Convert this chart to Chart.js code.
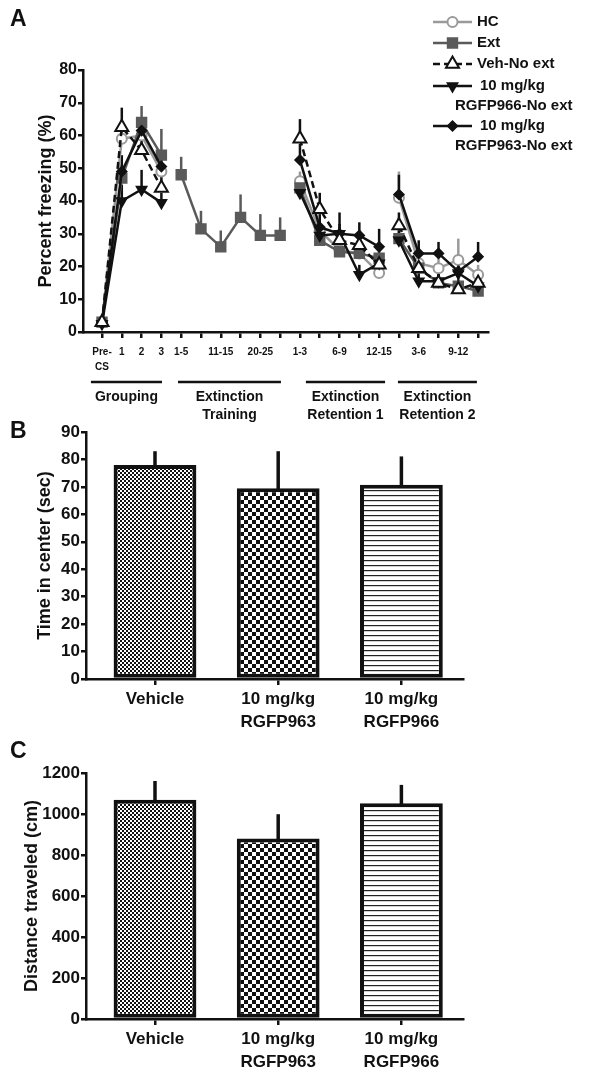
<!DOCTYPE html>
<html>
<head>
<meta charset="utf-8">
<script src="https://cdn.jsdelivr.net/npm/chart.js@4.4.0/dist/chart.umd.min.js"></script>
<style>
  body { margin: 0; background: #fff; }
  #wrap { position: relative; width: 600px; height: 1081px; font-family: Arial, 'Liberation Sans', Helvetica, sans-serif; }
  .panel { position: absolute; left: 0; width: 600px; }
  .letter { position: absolute; left: 10px; font-size: 23px; font-weight: bold; line-height: 23px; color: #111; }
</style>
</head>
<body>
<div id="wrap">
  <div class="panel" style="top:0;height:440px"><canvas id="freezeChart" width="600" height="440"></canvas></div>
  <div class="panel" style="top:420px;height:320px"><canvas id="centerChart" width="600" height="320"></canvas></div>
  <div class="panel" style="top:740px;height:341px"><canvas id="distanceChart" width="600" height="341"></canvas></div>
  <div class="letter" style="top:7px">A</div>
  <div class="letter" style="top:419px">B</div>
  <div class="letter" style="top:739px">C</div>
</div>
<script>
const FONT = "Arial, 'Liberation Sans', Helvetica, sans-serif";
Chart.defaults.font.family = FONT;
Chart.defaults.color = '#111';
Chart.defaults.animation = false;

// Panel A - freezing across sessions
const sessionLabels = ['Pre-\nCS', '1', '2', '3', '1-5', '', '11-15', '', '20-25', '', '1-3', '', '6-9', '', '12-15', '', '3-6', '', '9-12', ''];
const sessionPhase = [0, 0, 0, 0, 1, 1, 1, 1, 1, 1, 2, 2, 2, 2, 2, 3, 3, 3, 3, 3];
const phaseNames = [['Grouping'], ['Extinction', 'Training'], ['Extinction', 'Retention 1'], ['Extinction', 'Retention 2']];
const seriesNames = ['HC', 'Ext', 'Veh-No ext', '10 mg/kg\nRGFP966-No ext', '10 mg/kg\nRGFP963-No ext'];

const hcFreeze  = [3, 59, 60, 49, null, null, null, null, null, null, 46, 31, 25, 24, 18, 41, 21, 19.5, 22, 17.5];
const hcSem     = [1, 3, 3, 4, null, null, null, null, null, null, 3, 3, 2, 2, 2, 8, 3, 3, 6.5, 3];
const extFreeze = [3, 47, 64, 54, 48, 31.5, 26, 35, 29.5, 29.5, 44, 28, 24.5, 24, 22.5, 28.5, 19.5, 15, 14, 12.5];
const extSem    = [1, 4, 5, 8, 5.5, 5.5, 5, 7, 6.5, 5.5, 3, 3, 3, 3, 3, 3, 3, 3, 3, 3];
const vehFreeze = [3, 62.5, 55.5, 44, null, null, null, null, null, null, 59, 37.5, 28, 26.5, 20.5, 32.5, 19.5, 15, 13, 15];
const vehSem    = [1, 6, 4, 4, null, null, null, null, null, null, 6, 5, 3, 3, 3, 4, 3, 3, 3, 3];
const r966Freeze = [2.5, 40, 43.5, 39.5, null, null, null, null, null, null, 42.5, 29.5, 30, 17.5, 21, 28, 15.5, 15.5, 18, 14];
const r966Sem    = [1, 5, 6, 3, null, null, null, null, null, null, 3, 3, 3, 3, 3, 3, 3, 3, 3, 3];
const r963Freeze = [3, 49, 61.5, 50.5, null, null, null, null, null, null, 52.5, 32, 30, 29.5, 26, 42, 24, 24, 18.5, 23];
const r963Sem    = [1, 5, 4, 4, null, null, null, null, null, null, 5, 4, 6.5, 4, 5.5, 6, 4, 3.5, 4, 4.5];

// Panels B and C - open field
const treatments = ['Vehicle', '10 mg/kg\nRGFP963', '10 mg/kg\nRGFP966'];
const centerTime = [78, 69.5, 70.8];
const centerTimeSem = [5, 13.5, 10.3];
const distance = [1070, 881, 1053];
const distanceSem = [91, 118, 89];

function toPoints(values) {
    return values.map((v, i) => ({ x: i, y: v }));
}

const breakPhases = {
    borderColor: ctx => sessionPhase[ctx.p0DataIndex] !== sessionPhase[ctx.p1DataIndex] ? 'rgba(0,0,0,0)' : undefined
};

function lineSet(label, values, sem, color, style, extra) {
    return Object.assign({
        label: label,
        data: toPoints(values),
        sem: sem,
        borderColor: color,
        backgroundColor: color,
        pointBorderColor: color,
        pointBackgroundColor: color,
        borderWidth: 2.5,
        pointBorderWidth: 1.5,
        pointStyle: style,
        pointRadius: 5,
        tension: 0,
        spanGaps: false,
        clip: false,
        segment: breakPhases
    }, extra || {});
}

// upward-only error bars, drawn behind the markers
const errorBars = {
    id: 'errorBars',
    beforeDatasetsDraw(chart, args, opts) {
        const ctx = chart.ctx;
        const yScale = chart.scales.y;
        ctx.save();
        chart.data.datasets.forEach((ds, di) => {
            const meta = chart.getDatasetMeta(di);
            ctx.strokeStyle = ds.errColor || ds.borderColor;
            ctx.lineWidth = opts.width || 2.5;
            ctx.setLineDash([]);
            meta.data.forEach((el, i) => {
                const v = ds.data[i].y;
                const s = ds.sem[i];
                if (v == null || s == null) return;
                const x = el.x;
                ctx.beginPath();
                ctx.moveTo(x, yScale.getPixelForValue(v));
                ctx.lineTo(x, yScale.getPixelForValue(v + s));
                ctx.stroke();
            });
        });
        ctx.restore();
    }
};

// phase brackets below the session axis
const phaseBrackets = {
    id: 'phaseBrackets',
    afterDraw(chart, args, opts) {
        const ctx = chart.ctx;
        const x = chart.scales.x;
        ctx.save();
        ctx.strokeStyle = '#111';
        ctx.fillStyle = '#111';
        ctx.lineWidth = 2.5;
        ctx.font = 'bold 14px ' + FONT;
        ctx.textAlign = 'center';
        ctx.textBaseline = 'middle';
        opts.spans.forEach((span, i) => {
            const x0 = x.getPixelForValue(span[0]);
            const x1 = x.getPixelForValue(span[1]);
            ctx.beginPath();
            ctx.moveTo(x0, opts.lineY);
            ctx.lineTo(x1, opts.lineY);
            ctx.stroke();
            phaseNames[i].forEach((line, k) => {
                ctx.fillText(line, (x0 + x1) / 2, opts.textY + k * 18);
            });
        });
        ctx.restore();
    }
};

const sideLegend = {
    id: 'sideLegend',
    afterDraw(chart, args, opts) {
        const ctx = chart.ctx;
        ctx.save();
        ctx.font = 'bold 15px ' + FONT;
        ctx.textBaseline = 'middle';
        chart.data.datasets.forEach((ds, i) => {
            const y = opts.rows[i];
            const lines = ds.label.split('\n');
            ctx.strokeStyle = ds.borderColor;
            ctx.lineWidth = 2.5;
            ctx.setLineDash(ds.borderDash || []);
            ctx.beginPath();
            ctx.moveTo(opts.lineX0, y);
            ctx.lineTo(opts.lineX1, y);
            ctx.stroke();
            ctx.setLineDash([]);
            ctx.fillStyle = ds.pointBackgroundColor;
            ctx.strokeStyle = ds.pointBorderColor;
            ctx.lineWidth = ds.pointBorderWidth;
            Chart.helpers.drawPoint(ctx, {
                pointStyle: ds.pointStyle,
                radius: ds.pointRadius,
                rotation: ds.pointRotation || 0,
                borderWidth: ds.pointBorderWidth
            }, (opts.lineX0 + opts.lineX1) / 2, y);
            ctx.fillStyle = '#111';
            ctx.fillText(lines[0], lines.length > 1 ? opts.textX + 3 : opts.textX, y);
            if (lines[1]) ctx.fillText(lines[1], opts.wrapX, y + 20);
        });
        ctx.restore();
    }
};

new Chart(document.getElementById('freezeChart'), {
    type: 'line',
    data: {
        datasets: [
            lineSet(seriesNames[0], hcFreeze, hcSem, '#9a9a9a', 'circle',
                { pointBackgroundColor: '#fff', pointBorderWidth: 2, pointRadius: 5, order: 5 }),
            lineSet(seriesNames[1], extFreeze, extSem, '#5a5a5a', 'rect',
                { pointRadius: 7, order: 4 }),
            lineSet(seriesNames[2], vehFreeze, vehSem, '#111', 'triangle',
                { pointBackgroundColor: '#fff', pointBorderWidth: 2, pointRadius: 7.5, borderDash: [7, 4], order: 1,
                  segment: Object.assign({ borderDash: () => [7, 4] }, breakPhases) }),
            lineSet(seriesNames[3], r966Freeze, r966Sem, '#111', 'triangle',
                { pointRotation: 180, pointRadius: 6, order: 3 }),
            lineSet(seriesNames[4], r963Freeze, r963Sem, '#111', 'rectRot',
                { pointRadius: 5, order: 2 })
        ]
    },
    options: {
        responsive: false,
        events: [],
        layout: { padding: { left: 0, top: 70, right: 112, bottom: 0 } },
        plugins: {
            legend: { display: false },
            tooltip: { enabled: false },
            errorBars: { width: 2.5 },
            phaseBrackets: {
                spans: [[-0.56, 3.03], [3.84, 9.04], [10.3, 14.3], [14.95, 18.94]],
                lineY: 382,
                textY: 397
            },
            sideLegend: { rows: [22, 43, 64, 86, 126], lineX0: 433, lineX1: 472, textX: 477, wrapX: 455 }
        },
        scales: {
            x: {
                type: 'linear',
                min: -0.96,
                max: 19.5,
                offset: false,
                afterFit: s => { s.height = 108; },
                border: { color: '#111', width: 2.5 },
                grid: { drawOnChartArea: false, tickLength: 6, lineWidth: 2.5, color: '#111' },
                ticks: {
                    stepSize: 1,
                    includeBounds: false,
                    autoSkip: false,
                    maxRotation: 0,
                    padding: 7,
                    font: { size: 10, weight: 'bold', lineHeight: 1.5 },
                    callback: v => (sessionLabels[v] || '').split('\n')
                }
            },
            y: {
                min: 0,
                max: 80,
                afterFit: s => { s.width = 83; },
                border: { color: '#111', width: 2.5 },
                grid: { drawOnChartArea: false, tickLength: 5, lineWidth: 2.5, color: '#111' },
                ticks: { stepSize: 10, padding: 1, font: { size: 16, weight: 'bold' } },
                title: {
                    display: true,
                    text: 'Percent freezing (%)',
                    font: { size: 18, weight: 'bold' },
                    padding: { top: 35, bottom: 0 }
                }
            }
        }
    },
    plugins: [errorBars, phaseBrackets, sideLegend]
});

// bar fill patterns
function checker(cell) {
    const c = document.createElement('canvas');
    c.width = c.height = cell * 2;
    const g = c.getContext('2d');
    g.fillStyle = '#fff';
    g.fillRect(0, 0, cell * 2, cell * 2);
    g.fillStyle = '#111';
    g.fillRect(0, 0, cell, cell);
    g.fillRect(cell, cell, cell, cell);
    return g.createPattern(c, 'repeat');
}

function stripes(gap) {
    const c = document.createElement('canvas');
    c.width = 4;
    c.height = gap;
    const g = c.getContext('2d');
    g.fillStyle = '#fff';
    g.fillRect(0, 0, 4, gap);
    g.fillStyle = '#222';
    g.fillRect(0, 0, 4, 1.2);
    return g.createPattern(c, 'repeat');
}

const barFills = [checker(2), checker(4), stripes(5)];

const barErrors = {
    id: 'barErrors',
    afterDatasetsDraw(chart) {
        const ctx = chart.ctx;
        const yScale = chart.scales.y;
        const ds = chart.data.datasets[0];
        const meta = chart.getDatasetMeta(0);
        ctx.save();
        ctx.strokeStyle = '#111';
        ctx.lineWidth = 3.5;
        meta.data.forEach((bar, i) => {
            const v = ds.data[i].y;
            ctx.beginPath();
            ctx.moveTo(bar.x, yScale.getPixelForValue(v) + 2);
            ctx.lineTo(bar.x, yScale.getPixelForValue(v + ds.sem[i]));
            ctx.stroke();
        });
        ctx.restore();
    }
};

function makeBarChart(id, values, sem, yMax, yStep, title, titlePad, padTop, axisHeight) {
    return new Chart(document.getElementById(id), {
        type: 'bar',
        data: {
            datasets: [{
                data: toPoints(values),
                sem: sem,
                backgroundColor: barFills,
                borderColor: '#111',
                borderWidth: 4,
                borderSkipped: false,
                barPercentage: 0.84,
                categoryPercentage: 0.8
            }]
        },
        options: {
            responsive: false,
            events: [],
            layout: { padding: { left: 0, top: padTop, right: 137, bottom: 0 } },
            plugins: { legend: { display: false }, tooltip: { enabled: false } },
            scales: {
                x: {
                    type: 'linear',
                    min: -0.56,
                    max: 2.5,
                    offset: false,
                    afterFit: s => { s.height = axisHeight; },
                    border: { color: '#111', width: 2.5 },
                    grid: { drawOnChartArea: false, offset: false, tickLength: 6, lineWidth: 2.5, color: '#111' },
                    ticks: {
                        stepSize: 1,
                        includeBounds: false,
                        autoSkip: false,
                        maxRotation: 0,
                        padding: 3,
                        font: { size: 17, weight: 'bold', lineHeight: 1.35 },
                        callback: v => (treatments[v] || '').split('\n')
                    }
                },
                y: {
                    min: 0,
                    max: yMax,
                    afterFit: s => { s.width = 86; },
                    border: { color: '#111', width: 2.5 },
                    grid: { drawOnChartArea: false, tickLength: 5, lineWidth: 2.5, color: '#111' },
                    ticks: {
                        stepSize: yStep,
                        padding: 1,
                        font: { size: 17, weight: 'bold' },
                        callback: v => String(v)
                    },
                    title: {
                        display: true,
                        text: title,
                        font: { size: 18, weight: 'bold' },
                        padding: { top: titlePad, bottom: 0 }
                    }
                }
            }
        },
        plugins: [barErrors]
    });
}

makeBarChart('centerChart', centerTime, centerTimeSem, 90, 10, 'Time in center (sec)', 34, 12, 61);
makeBarChart('distanceChart', distance, distanceSem, 1200, 200, 'Distance traveled (cm)', 21, 33, 62);
</script>
</body>
</html>
